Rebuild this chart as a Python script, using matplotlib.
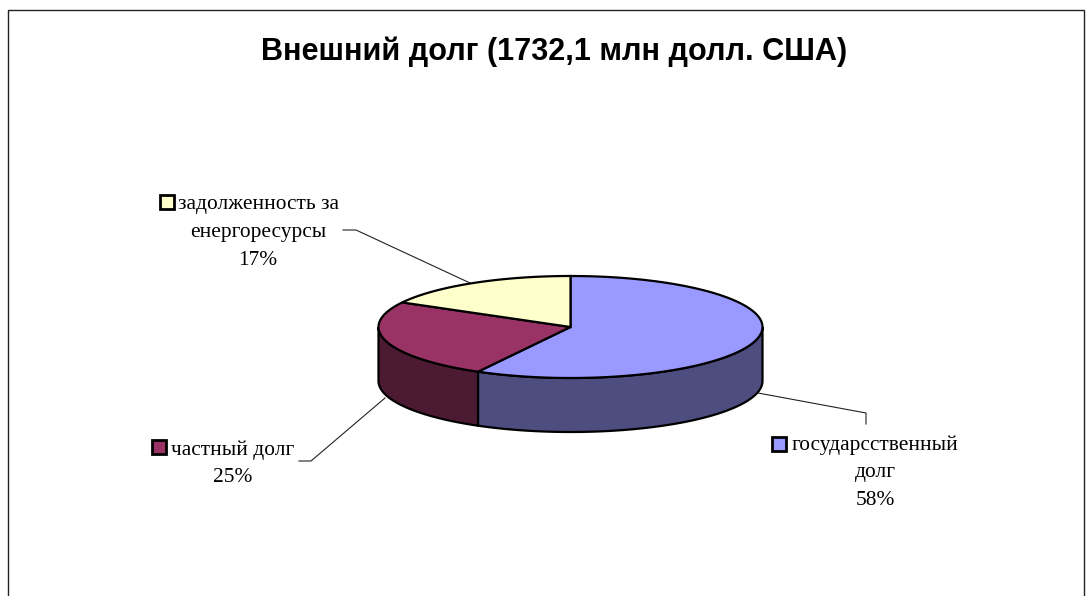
import numpy as np
import matplotlib
matplotlib.use('Agg')
import matplotlib.pyplot as plt
from matplotlib.patches import Polygon, Rectangle

title = 'Внешний долг (1732,1 млн долл. США)'
values = [58, 25, 17]
top_colors = ['#9999FF', '#993366', '#FFFFCC']
side_colors = ['#4D4D80', '#4D1A33', '#80806A']
labels = [['государсственный', 'долг', '58%'],
          ['частный долг', '25%'],
          ['задолженность за', 'енергоресурсы', '17%']]

# pie geometry in image pixels
cx, cy = 570.5, 327
rx, ry = 192, 51
depth = 54

W, H = 1092, 596
fig = plt.figure(figsize=(W / 100, H / 100), dpi=100)
ax = fig.add_axes([0, 0, 1, 1])
ax.set_xlim(0, W)
ax.set_ylim(H, 0)
ax.axis('off')

# chart frame, runs off the bottom of the picture
ax.add_patch(Rectangle((8, 10), 1076, H, fill=False, ec='#222222', lw=1.0))


def arc(a, b):
    t = np.linspace(a, b, 120)
    return cx + rx * np.sin(t), cy - ry * np.cos(t)


edges = np.radians(np.cumsum([0] + values) * 3.6)

# side walls, only the front half (90..270 deg clockwise from top) is seen
for i in range(len(values)):
    a = max(edges[i], np.pi / 2)
    b = min(edges[i + 1], 3 * np.pi / 2)
    if a >= b:
        continue
    x, y = arc(a, b)
    pts = np.r_[np.c_[x, y], np.c_[x[::-1], y[::-1] + depth]]
    ax.add_patch(Polygon(pts, fc=side_colors[i], ec='black', lw=1.6, zorder=2))

# top faces
for i in range(len(values)):
    x, y = arc(edges[i], edges[i + 1])
    pts = np.r_[[[cx, cy]], np.c_[x, y]]
    ax.add_patch(Polygon(pts, fc=top_colors[i], ec='black', lw=1.6, zorder=3))

# leader lines
leaders = [([758, 866, 866], [393, 413, 424]),
           ([385, 311, 299], [398, 461, 461]),
           ([470, 356, 343], [283, 230, 230])]
for lx, ly in leaders:
    ax.plot(lx, ly, color='#222222', lw=0.8, zorder=1)

# text
ax.text(554, 52, title, ha='center', va='center', fontsize=22.1,
        fontweight='bold', family='Liberation Sans', color='black')

line_h = 27.8
label_pos = [(875, 445), (232.5, 450), (258, 205)]
for lab, (tx, ty) in zip(labels, label_pos):
    for j, s in enumerate(lab):
        ax.text(tx, ty + j * line_h, s, ha='center', va='center', fontsize=15.4,
                family='Liberation Serif', color='black')

# legend keys next to the labels
keys = [(772, 437), (152, 440), (160, 195)]
for (kx, ky), c in zip(keys, top_colors):
    ax.add_patch(Rectangle((kx, ky), 14, 14, fc=c, ec='black', lw=2.0, joinstyle='miter'))

fig.savefig('out.png', dpi=100, facecolor='white')
